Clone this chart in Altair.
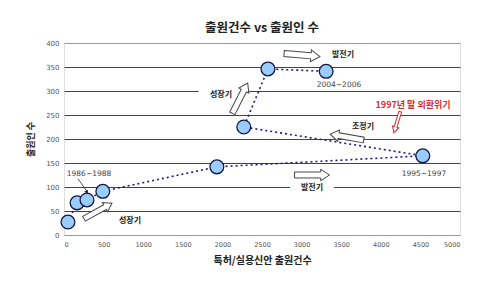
import altair as alt
import pandas as pd

# data
apps = [50, 165, 290, 490, 1930, 4530, 2270, 2575, 3310]        # 특허/실용신안 출원건수
applicants = [27, 67, 73, 91, 142, 165, 225, 346, 341]          # 출원인 수
order = list(range(len(apps)))

x_ticks = [0, 500, 1000, 1500, 2000, 2500, 3000, 3500, 4000, 4500, 5000]
y_ticks = [0, 50, 100, 150, 200, 250, 300, 350, 400]

# annotations (data units)
labels = ["1986~1988", "성장기", "성장기", "발전기", "2004~2006", "조정기", "1995~1997", "발전기"]
label_x = [316, 833, 1982, 3523, 3472, 3775, 4545, 3131]
label_y = [127, 29, 292, 375, 312, 225, 127, 98]
label_bold = [False, True, True, True, False, True, False, True]

crisis_text = ["1997년 말 외환위기"]
crisis_x = [4407]
crisis_y = [271]

# hollow arrows: center, rotation, length
arrow_x = [429, 2222, 3005, 3573, 3131]
arrow_y = [50, 285, 375, 204, 125]
arrow_angle = [331, 297, 5, 190, 0]
arrow_len = [32, 34, 36, 34, 35]

# label backgrounds over gridlines
bg_x = [1700, 2854]
bg_x2 = [2260, 3409]
bg_y = [284, 90]
bg_y2 = [300, 106]

FONT = "Noto Sans CJK KR"
ARROW = "M -1 -0.17 L 0.5 -0.17 L 0.5 -0.33 L 1 0 L 0.5 0.33 L 0.5 0.17 L -1 0.17 Z"
THIN_ARROW = "M -1 -0.13 L 0.45 -0.13 L 0.45 -0.3 L 1 0 L 0.45 0.3 L 0.45 0.13 L -1 0.13 Z"

df = pd.DataFrame({"x": apps, "y": applicants, "o": order})
lab = pd.DataFrame({"t": labels, "x": label_x, "y": label_y, "b": label_bold})
arr = pd.DataFrame({"x": arrow_x, "y": arrow_y, "a": arrow_angle,
                    "s": [v * v for v in arrow_len]})
bg = pd.DataFrame({"x": bg_x, "x2": bg_x2, "y": bg_y, "y2": bg_y2})
cr = pd.DataFrame({"t": crisis_text, "x": crisis_x, "y": crisis_y})

xs = alt.Scale(domain=[0, 5000], nice=False, zero=True)
ys = alt.Scale(domain=[0, 400], nice=False)

X = alt.X("x:Q", scale=xs, axis=alt.Axis(
    values=x_ticks, format="d", labelOverlap=False, title="특허/실용신안 출원건수", grid=False,
    ticks=False, domain=False,
    labelFontSize=6.5, labelColor="#555", labelPadding=6, labelFont="DejaVu Sans",
    titleFont=FONT, titleFontSize=10, titleFontWeight="bold", titleColor="#222", titlePadding=8))
Y = alt.Y("y:Q", scale=ys, axis=alt.Axis(
    values=y_ticks, format="d", labelOverlap=False, title="출원인 수", ticks=False, domain=False,
    gridColor={"condition": {"test": "datum.value === 0 || datum.value === 400", "value": "#999"}, "value": "#444"},
    gridWidth=1,
    labelFontSize=7, labelColor="#555", labelPadding=5, labelFont="DejaVu Sans",
    titleFont=FONT, titleFontSize=9, titleFontWeight="bold", titleColor="#222", titlePadding=10))

line = alt.Chart(df).mark_line(color="#1a1a80", strokeDash=[2, 3], strokeWidth=1.6).encode(
    x=X, y=Y, order="o:Q")

pts = alt.Chart(df).mark_point(filled=True, shape="circle", size=190, fill="#99CCFF",
                               stroke="#151540", strokeWidth=1.3, opacity=1).encode(x=X, y=Y)

bgs = alt.Chart(bg).mark_rect(color="white").encode(x=X, x2="x2:Q", y=Y, y2="y2:Q")

txt_b = alt.Chart(lab[lab.b]).mark_text(font=FONT, fontSize=8, fontWeight="bold", color="#222").encode(
    x=X, y=Y, text="t:N")
txt_n = alt.Chart(lab[~lab.b]).mark_text(font="DejaVu Sans", fontSize=7.5, color="#444").encode(
    x=X, y=Y, text="t:N")

crisis = alt.Chart(cr).mark_text(font=FONT, fontSize=9, fontWeight="bold", color="#d03030").encode(
    x=X, y=Y, text="t:N")

arrows = alt.Chart(arr).mark_point(shape=ARROW, filled=True, fill="white", stroke="#444",
                                   strokeWidth=1, opacity=1).encode(
    x=X, y=Y, angle=alt.Angle("a:Q", scale=None), size=alt.Size("s:Q", scale=None))

red_arrow = alt.Chart(pd.DataFrame({"x": [4205], "y": [235]})).mark_point(
    shape=THIN_ARROW, filled=True, fill="white", stroke="#d03030", strokeWidth=1, opacity=1,
    angle=107, size=484).encode(x=X, y=Y)

small_arrow = alt.Chart(pd.DataFrame({"x": [177], "y": [117], "x2": [285], "y2": [92]})).mark_rule(
    color="#222", strokeWidth=0.8).encode(x=X, y=Y, x2="x2:Q", y2="y2:Q")
small_head = alt.Chart(pd.DataFrame({"x": [290], "y": [89]})).mark_point(
    shape="triangle-down", filled=True, size=18, color="#222", angle=330, opacity=1).encode(x=X, y=Y)

chart = alt.layer(line, bgs, txt_b, txt_n, crisis, arrows, red_arrow, small_arrow, small_head, pts).properties(
    width=396, height=192,
    title=alt.TitleParams("출원건수 vs 출원인 수", font=FONT, fontSize=12.5, fontWeight="bold",
                          color="#222", anchor="middle", offset=5),
    padding={"left": 64, "top": 43, "right": 20, "bottom": 59},
    autosize=alt.AutoSizeParams(type="none"),
).configure_view(stroke="#999", strokeWidth=1).configure(background="white")

chart.save("out.html", embed_options={"renderer": "svg", "actions": False})
